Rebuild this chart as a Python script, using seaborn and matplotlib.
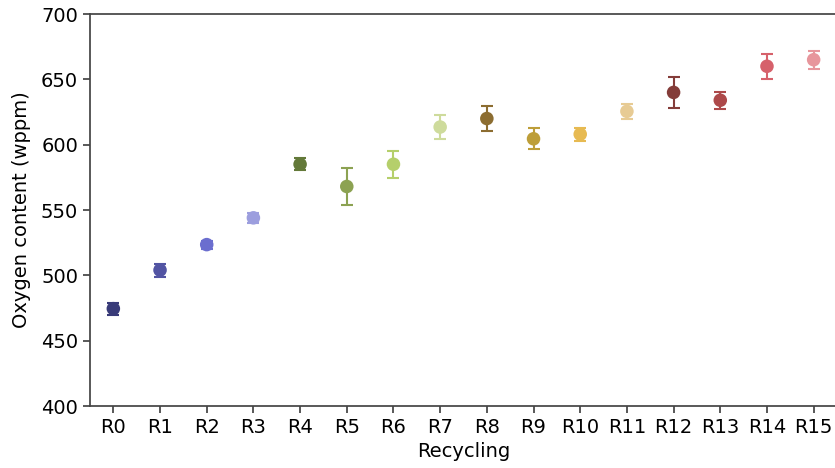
import matplotlib
matplotlib.use("Agg")
import matplotlib.pyplot as plt
import seaborn as sns
import pandas as pd

# values
labels = ['R0', 'R1', 'R2', 'R3', 'R4', 'R5', 'R6', 'R7',
          'R8', 'R9', 'R10', 'R11', 'R12', 'R13', 'R14', 'R15']
oxygen = [474.5, 504, 523.5, 544, 585, 568, 585, 613.5,
          620, 604.5, 608, 625.5, 640, 634, 660, 665]
err = [4.5, 5, 3, 4, 4.5, 14, 10.5, 9.5,
       9.5, 8, 5, 6, 12, 6.5, 9.5, 7]

colors = sns.color_palette("tab20b", 16)

df = pd.DataFrame({'Recycling': labels, 'Oxygen': oxygen, 'err': err})

fig = plt.figure(figsize=(8.35, 4.68), dpi=100)
ax = fig.add_axes([90 / 835, 62 / 468, 747 / 835, 392 / 468])

for i, row in df.iterrows():
    ax.errorbar(i, row.Oxygen, yerr=row.err, fmt='none', ecolor=colors[i],
                elinewidth=1.5, capsize=4, capthick=1.5, zorder=2)
sns.scatterplot(data=df, x='Recycling', y='Oxygen', hue='Recycling',
                palette=colors, s=95, linewidth=0, legend=False, ax=ax, zorder=3)

ax.set_xlim(-0.5, 15.5)
ax.set_ylim(400, 700)
ax.set_yticks(range(400, 701, 50))
ax.set_xlabel('Recycling', fontsize=14, labelpad=4)
ax.set_ylabel('Oxygen content (wppm)', fontsize=14, labelpad=7)
ax.tick_params(labelsize=14, color='#444444', width=1.25, length=5)
for side in ['left', 'bottom', 'top']:
    ax.spines[side].set_color('#444444')
    ax.spines[side].set_linewidth(1.25)
ax.spines['right'].set_visible(False)

fig.savefig('out.png', dpi=100)
